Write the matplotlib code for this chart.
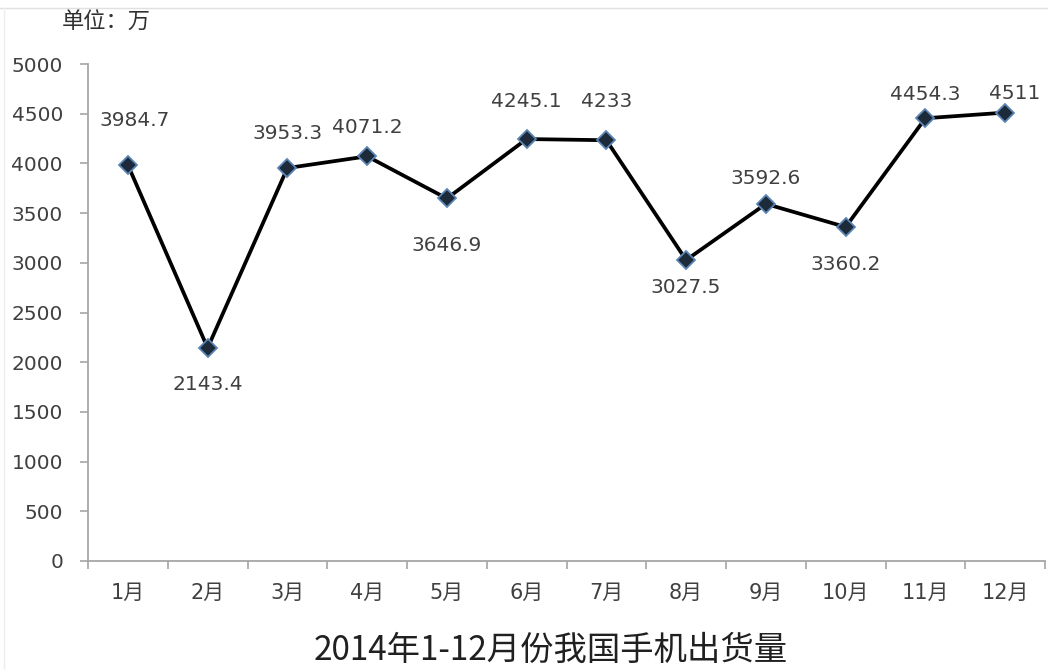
import matplotlib.pyplot as plt
from matplotlib.lines import Line2D

plt.rcParams['font.family'] = ['DejaVu Sans', 'Noto Sans CJK SC']

# 2014年1-12月份我国手机出货量 (单位：万)
months = ["1月", "2月", "3月", "4月", "5月", "6月", "7月", "8月", "9月", "10月", "11月", "12月"]
shipments = [3984.7, 2143.4, 3953.3, 4071.2, 3646.9, 4245.1, 4233, 3027.5, 3592.6, 3360.2, 4454.3, 4511]
value_labels = ["3984.7", "2143.4", "3953.3", "4071.2", "3646.9", "4245.1", "4233",
                "3027.5", "3592.6", "3360.2", "4454.3", "4511"]
yticks = [0, 500, 1000, 1500, 2000, 2500, 3000, 3500, 4000, 4500, 5000]

# label offsets in points (dx, dy)
offsets = [(5, 32), (0, -26), (0, 25), (0, 21), (0, -34), (0, 27), (0, 28),
           (0, -20), (0, 18), (0, -27), (0, 17), (7, 14)]

fig = plt.figure(figsize=(10.48, 6.7), dpi=100)
ax = fig.add_axes([88 / 1048, 1 - 561 / 670, (1045 - 88) / 1048, (561 - 64) / 670])

x = list(range(len(months)))
ax.plot(x, shipments, color="black", lw=2.7, zorder=2)
ax.plot(x, shipments, ls="none", marker="D", ms=9, mfc="#1c2a3a", mec="#5b85b5", mew=1.3, zorder=3)

for i, (lab, v) in enumerate(zip(value_labels, shipments)):
    ax.annotate(lab, (i, v), xytext=offsets[i], textcoords="offset points",
                ha="center", va="center", fontsize=14.5, color="#404040")

ax.set_xlim(-0.5, len(months) - 0.5)
ax.set_ylim(0, 5000)
ax.set_yticks(yticks)
ax.set_yticklabels([str(t) for t in yticks], fontsize=14.5, color="#404040")

# boundary ticks (major, no labels) + centred labels (minor, no tick)
ax.set_xticks([i - 0.5 for i in range(len(months) + 1)])
ax.set_xticklabels([])
ax.set_xticks(x, minor=True)
ax.set_xticklabels(months, minor=True, fontsize=15, color="#404040",
                   family=["DejaVu Sans", "Noto Sans CJK SC"])
ax.tick_params(axis="x", which="major", direction="out", length=6, color="#a6a6a6", width=1.2)
ax.tick_params(axis="x", which="minor", length=0, pad=16)
ax.tick_params(axis="y", direction="out", length=6, color="#a6a6a6", width=1.2, pad=12)

for s in ["top", "right"]:
    ax.spines[s].set_visible(False)
for s in ["left", "bottom"]:
    ax.spines[s].set_color("#a6a6a6")
    ax.spines[s].set_linewidth(1.3)

fig.text(62 / 1048, 1 - 22 / 670, "单位：万", fontsize=16, color="#303030",
         family=["Noto Sans CJK SC"], va="center", ha="left")
fig.text(0.525, 1 - 650 / 670, "2014年1-12月份我国手机出货量", fontsize=24, color="#202020",
         family=["Noto Sans CJK SC"], va="center", ha="center")

# faint frame line at top-left
fig.add_artist(Line2D([0, 1], [1 - 8 / 670, 1 - 8 / 670], color="#e0e0e0", lw=1))
fig.add_artist(Line2D([4 / 1048, 4 / 1048], [0, 1 - 8 / 670], color="#eeeeee", lw=1))

fig.savefig("out.png", dpi=100)
